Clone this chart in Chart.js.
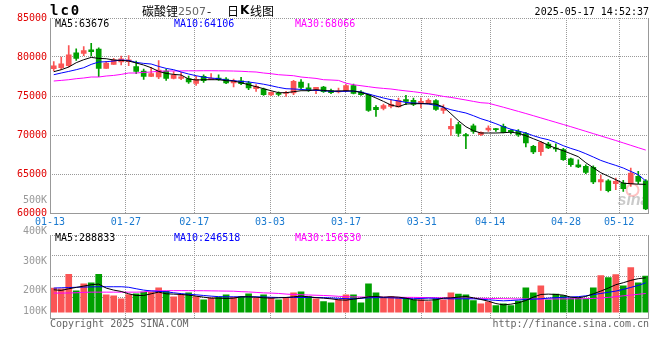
<!DOCTYPE html>
<html>
<head>
<meta charset="utf-8">
<script src="https://cdn.jsdelivr.net/npm/chart.js@4.4.1/dist/chart.umd.min.js"></script>
<style>
  html, body { margin: 0; padding: 0; background: #fff; }
  #wrap { position: relative; width: 660px; height: 360px; }
  #wrap canvas { position: absolute; left: 0; top: 0; }
</style>
</head>
<body>
<div id="wrap">
  <canvas id="chartPrice" width="660" height="340"></canvas>
  <canvas id="chartVolume" width="660" height="340"></canvas>
</div>
<script>
// daily candles 01-13 .. 05-16, index 0 = 01-13
const dateLabels = ['01-13', '01-27', '02-17', '03-03', '03-17', '03-31', '04-14', '04-28', '05-12'];
const dateIdx = [0, 10, 19, 29, 39, 49, 58, 68, 75];

const open = [
  78500, 78630, 78880, 80550, 80460, 80930, 81030, 78540, 79050, 79360,
  79400, 78760, 78200, 77510, 77440, 78200, 77260, 77260, 77220, 76620,
  77510, 77130, 77310, 77180, 76670, 76960, 76670, 75940, 75900, 75130,
  75290, 75330, 75380, 76790, 76060, 75720, 76150, 75680, 75510, 75680,
  76320, 75510, 75170, 73540, 73410, 73670, 73590, 74530, 74440, 74010,
  74100, 74400, 73150, 70770, 71320, 70040, 71190, 70040, 70640, 70770,
  71100, 70590, 70460, 70170, 68540, 67860, 68850, 68330, 68120, 66960,
  66190, 65970, 65850, 63970, 64140, 63760, 63850, 63760, 64690, 64140
];
const close = [
  78880, 79140, 80290, 79820, 80810, 80680, 78540, 79230, 79650, 79780,
  79650, 78150, 77510, 77860, 78330, 77260, 77690, 77470, 76790, 77130,
  76960, 77260, 77090, 76670, 76960, 76580, 76030, 76230, 75170, 75460,
  75200, 75420, 76870, 76100, 75770, 76100, 75550, 75420, 75640, 76320,
  75330, 75170, 73150, 73240, 73760, 73920, 74440, 74310, 73920, 74310,
  74440, 73280, 73410, 71100, 70200, 69870, 70460, 70330, 70900, 70680,
  70330, 70420, 70000, 68970, 67820, 69050, 68330, 68200, 66830, 66190,
  65900, 65200, 63970, 64270, 62860, 64050, 63120, 65130, 64050, 60510
];
const high = [
  79400, 80000, 81450, 81060, 81320, 81740, 81190, 79440, 79820, 80130,
  80170, 79490, 78460, 78670, 79530, 78410, 78120, 78030, 77560, 77510,
  77730, 77860, 77730, 77350, 77180, 77380, 76870, 76450, 76020, 75550,
  75550, 75590, 77000, 77090, 76580, 76100, 76230, 75900, 76020, 76450,
  76540, 75680, 75260, 73760, 73970, 74530, 74740, 75080, 74740, 74740,
  74650, 74530, 73880, 72090, 71610, 70200, 71410, 70420, 71190, 70850,
  71410, 70680, 70680, 70330, 68670, 69180, 69050, 68880, 68280, 67050,
  66830, 66190, 66060, 64870, 64270, 64490, 64180, 65770, 65330, 64270
];
const low = [
  78200, 78410, 78720, 79560, 80170, 80130, 77470, 78540, 79050, 78970,
  78880, 77860, 77130, 77470, 77220, 77000, 77180, 77090, 76610, 76360,
  76740, 77090, 77000, 76580, 76150, 76450, 75810, 75590, 75080, 75040,
  75040, 74950, 75170, 75940, 75590, 75290, 75460, 75290, 75380, 75590,
  75260, 75080, 73020, 72380, 73200, 73460, 73590, 73880, 73760, 73460,
  73970, 73150, 72770, 69950, 69820, 68240, 70200, 69910, 70460, 70460,
  70260, 70130, 69820, 68460, 67600, 67380, 68240, 67900, 66740, 65970,
  65810, 65040, 63760, 62900, 62690, 62990, 62770, 63410, 63760, 60420
];
const ma5 = [
  78115, 78371, 78717, 79268, 79653, 79948, 79820, 79781, 79614, 79563,
  79486, 79230, 78974, 78627, 78153, 77897, 77769, 77692, 77179, 77051,
  77089, 77089, 77089, 76961, 76922, 76704, 76448, 76192, 75935, 75679,
  75423, 75423, 75551, 75679, 75679, 75807, 75717, 75640, 75640, 75679,
  75640, 75461, 75166, 74743, 74307, 73846, 73628, 73974, 74012, 74012,
  74012, 73974, 73589, 72730, 71833, 71064, 70551, 70256, 70256, 70256,
  70294, 70358, 70230, 69910, 69525, 69141, 68692, 68307, 67987, 67602,
  67218, 66448, 65807, 65166, 64718, 64269, 63820, 63756, 63692, 63676
];
const ma10 = [
  77730, 77948, 78153, 78371, 78627, 79050, 79358, 79397, 79486, 79614,
  79563, 79307, 79179, 79102, 78794, 78538, 78371, 78076, 77820, 77602,
  77409, 77307, 77217, 77051, 76961, 76871, 76794, 76666, 76512, 76320,
  76102, 75935, 75897, 75845, 75769, 75717, 75679, 75590, 75590, 75590,
  75630, 75512, 75256, 74999, 74743, 74525, 74358, 74179, 74102, 74051,
  73974, 73794, 73538, 73243, 73025, 72820, 72474, 72089, 71794, 71448,
  71064, 70743, 70512, 70256, 69910, 69615, 69397, 69051, 68628, 68282,
  67987, 67602, 67179, 66743, 66410, 66102, 65769, 65333, 64910, 64106
];
const ma30 = [
  76922, 77000, 77089, 77217, 77307, 77435, 77435, 77563, 77640, 77769,
  77948, 77948, 78025, 78076, 78180, 78200, 78210, 78220, 78230, 78230,
  78240, 78240, 78230, 78220, 78200, 78170, 78115, 78076, 77948, 77858,
  77730, 77666, 77602, 77435, 77345, 77256, 77089, 77051, 77000, 76640,
  76448, 76320, 76192, 76063, 75974, 75897, 75769, 75653, 75551, 75423,
  75294, 75128, 74948, 74820, 74653, 74487, 74307, 74140, 74076, 73820,
  73563, 73294, 73025, 72756, 72474, 72192, 71910, 71628, 71346, 71064,
  70769, 70474, 70179, 69884, 69589, 69294, 68987, 68679, 68371, 68066
];

// volume, in thousand lots
const vol = [
  202.3, 196.6, 318.3, 179.6, 239.1, 247.5, 318.3, 145.7, 137.2, 111.7,
  148.5, 154.2, 168.3, 168.3, 205.1, 174.0, 128.7, 145.7, 162.7, 131.5,
  103.3, 120.2, 125.9, 145.7, 125.9, 131.5, 154.2, 120.2, 145.7, 120.2,
  103.3, 120.2, 162.7, 171.2, 131.5, 111.7, 89.1, 77.8, 106.1, 145.7,
  145.7, 77.8, 239.1, 162.7, 120.2, 131.5, 117.4, 120.2, 103.3, 103.3,
  89.1, 111.7, 103.3, 162.7, 151.4, 145.7, 97.6, 69.3, 86.3, 55.2,
  69.3, 55.2, 91.9, 205.1, 162.7, 222.1, 103.3, 151.4, 140.0, 117.4,
  117.4, 111.7, 205.1, 306.9, 290.0, 315.4, 222.1, 374.8, 247.5, 304.1
];
const volMa5 = [
  188.1, 182.5, 196.6, 207.9, 219.2, 230.6, 236.2, 202.3, 185.3, 174.0,
  154.2, 140.0, 140.0, 154.2, 168.3, 154.2, 151.4, 148.5, 142.9, 134.4,
  125.9, 117.4, 117.4, 114.6, 117.4, 128.7, 128.7, 125.9, 120.2, 117.4,
  120.2, 123.1, 128.7, 134.4, 128.7, 121.6, 117.4, 111.7, 103.3, 100.4,
  108.9, 117.4, 128.7, 131.5, 125.9, 128.7, 125.9, 117.4, 103.3, 100.4,
  100.4, 103.3, 117.4, 120.2, 125.9, 131.5, 120.2, 106.1, 91.9, 72.1,
  60.8, 66.5, 77.8, 97.6, 125.9, 148.5, 151.4, 148.5, 142.9, 125.9,
  120.2, 131.5, 154.2, 176.8, 202.3, 230.6, 247.5, 267.3, 281.5, 288.833
];
const volMa10 = [
  202.3, 205.1, 206.5, 209.3, 210.8, 212.2, 213.6, 213.6, 213.6, 213.6,
  209.3, 196.6, 185.3, 178.2, 174.0, 171.2, 162.7, 155.6, 149.9, 145.7,
  140.0, 134.4, 130.1, 128.7, 128.7, 128.7, 128.7, 128.7, 127.3, 124.5,
  123.1, 123.1, 123.1, 123.1, 123.1, 123.1, 121.6, 118.8, 116.0, 113.2,
  111.7, 116.0, 120.2, 121.6, 121.6, 120.2, 117.4, 113.2, 113.2, 114.6,
  117.4, 116.0, 113.2, 111.7, 111.7, 111.7, 111.7, 108.9, 103.3, 99.0,
  94.8, 97.6, 101.8, 106.1, 108.9, 111.7, 117.4, 121.6, 124.5, 127.3,
  130.1, 137.2, 147.1, 157.0, 166.9, 176.8, 191.0, 207.9, 224.9, 246.518
];
const volMa30 = [
  160, 160, 161, 163, 166, 168, 168, 168, 168, 168,
  168, 168, 170, 179, 180, 180, 181, 181, 181, 180,
  180, 179, 178, 177, 176, 172, 170, 166, 162, 160,
  157, 152, 148, 146, 144, 142, 140, 137, 133, 130,
  128, 127, 127, 126, 126, 125, 125, 124, 124, 123,
  122, 121, 120, 119, 118, 118, 117, 116, 115, 114,
  113, 112, 111, 111, 111, 111, 111, 111, 111, 112,
  112, 113, 115, 118, 124, 130, 137, 143, 150, 156.53
];

const N = open.length;
const UP = '#fa5555';
const DOWN = '#00a000';
const candleColors = close.map((c, i) => c >= open[i] ? UP : DOWN);
const MONO = '"DejaVu Sans Mono", monospace';

Chart.defaults.font.family = MONO;
Chart.defaults.font.size = 10;
Chart.defaults.animation = false;

function points(arr) {
  return arr.map((v, i) => ({ x: i, y: v }));
}

function spans(a, b) {
  return a.map((v, i) => ({ x: i, y: [v, b[i]] }));
}

// sina lays its date grid over N-1 slots, so the lines drift slightly off the candles
function dateTickValue(i) {
  return i * N / (N - 1) - 0.5;
}

function maLine(data, color) {
  return { type: 'line', data: points(data), borderColor: color, borderWidth: 1, pointRadius: 0, order: 0 };
}

function xScale(showLabels, height) {
  return {
    type: 'linear',
    offset: false,
    min: -0.5,
    max: N - 0.5,
    afterBuildTicks: s => { s.ticks = dateIdx.map(i => ({ value: dateTickValue(i) })); },
    afterFit: s => { s.height = height; },
    ticks: {
      display: showLabels, autoSkip: false, maxRotation: 0, padding: 3,
      color: '#1a7ad0', callback: (v, k) => dateLabels[k]
    },
    grid: { color: '#999', drawTicks: false, offset: false },
    border: { display: false, dash: [1, 1] }
  };
}

function drawFrame(ctx, a) {
  const l = Math.floor(a.left) + 0.5;
  const r = Math.floor(a.right) - 0.5;
  const b = Math.floor(a.bottom) + 0.5;
  ctx.strokeStyle = '#999';
  ctx.lineWidth = 1;
  ctx.setLineDash([]);
  ctx.beginPath();
  ctx.moveTo(l, a.top);
  ctx.lineTo(l, b);
  ctx.lineTo(r, b);
  ctx.lineTo(r, a.top);
  ctx.stroke();
}

function drawMaLabels(ctx, y, vals) {
  ctx.font = '10px ' + MONO;
  ctx.textBaseline = 'middle';
  ctx.textAlign = 'left';
  ctx.fillStyle = '#000';
  ctx.fillText('MA5:' + vals[0], 55, y);
  ctx.fillStyle = '#0000ff';
  ctx.fillText('MA10:' + vals[1], 174, y);
  ctx.fillStyle = '#ff00ff';
  ctx.fillText('MA30:' + vals[2], 295, y);
}

const priceDecor = {
  id: 'priceDecor',
  beforeDatasetsDraw(chart) {
    const { ctx, chartArea: a } = chart;
    ctx.save();
    ctx.strokeStyle = 'rgba(255,120,120,0.45)';
    ctx.lineWidth = 2;
    ctx.beginPath();
    ctx.arc(a.right - 17, a.bottom - 23, 6, 0, Math.PI * 2);
    ctx.stroke();
    ctx.fillStyle = 'rgba(150,150,150,0.5)';
    ctx.font = 'italic bold 16px "Liberation Sans"';
    ctx.textBaseline = 'alphabetic';
    ctx.fillText('sina', a.right - 32, a.bottom - 8);
    ctx.restore();
  },
  afterDraw(chart) {
    const { ctx, chartArea: a } = chart;
    ctx.save();
    drawFrame(ctx, a);

    ctx.textBaseline = 'middle';
    ctx.fillStyle = '#000';
    ctx.font = 'bold 14px ' + MONO;
    ctx.letterSpacing = '2px';
    ctx.fillText('lc0', 50, 11);
    ctx.letterSpacing = '0px';

    ctx.font = '12px "Noto Sans CJK SC"';
    ctx.fillText('碳酸锂', 142, 11);
    ctx.fillStyle = '#666';
    ctx.font = '11px "DejaVu Sans"';
    ctx.fillText('2507', 178, 12);
    ctx.fillStyle = '#000';
    ctx.font = '12px "Noto Sans CJK SC"';
    ctx.fillText('-', 207, 11);
    ctx.fillText('日', 227, 11);
    ctx.font = 'bold 12px "DejaVu Sans"';
    ctx.fillText('K', 240, 11);
    ctx.font = '12px "Noto Sans CJK SC"';
    ctx.fillText('线图', 250, 11);

    ctx.font = '10px ' + MONO;
    ctx.textAlign = 'right';
    ctx.fillText('2025-05-17 14:52:37', 649, 12);

    drawMaLabels(ctx, 24, [ma5[N - 1], ma10[N - 1], ma30[N - 1]]);
    ctx.restore();
  }
};

const volumeDecor = {
  id: 'volumeDecor',
  afterDraw(chart) {
    const { ctx, chartArea: a } = chart;
    ctx.save();
    drawFrame(ctx, a);
    drawMaLabels(ctx, 238, [volMa5, volMa10, volMa30].map(s => Math.round(s[N - 1] * 1000)));

    // sina prints these volume labels at its own fixed spots
    ctx.fillStyle = '#999';
    ctx.textAlign = 'right';
    [['500K', 200], ['400K', 231], ['300K', 261], ['200K', 290], ['100K', 311]].forEach(([t, y]) => {
      ctx.fillText(t, 47, y);
    });

    ctx.fillStyle = '#666';
    ctx.textAlign = 'left';
    ctx.fillText('Copyright 2025 SINA.COM', 50, 324);
    ctx.textAlign = 'right';
    ctx.fillText('http://finance.sina.com.cn', 649, 324);
    ctx.restore();
  }
};

new Chart(document.getElementById('chartPrice'), {
  type: 'bar',
  data: {
    datasets: [
      maLine(ma5, '#000000'),
      maLine(ma10, '#0000ff'),
      maLine(ma30, '#ff00ff'),
      {
        data: spans(open, close), backgroundColor: candleColors,
        barThickness: 5, minBarLength: 1, grouped: false, order: 1
      },
      {
        data: spans(low, high), backgroundColor: candleColors,
        barThickness: 1, grouped: false, order: 2
      }
    ]
  },
  options: {
    responsive: false,
    events: [],
    layout: { padding: { top: 18, right: 10.5, bottom: 108, left: 0 } },
    plugins: { legend: { display: false }, tooltip: { enabled: false } },
    scales: {
      x: xScale(true, 19),
      y: {
        min: 60000,
        max: 85000,
        afterFit: s => { s.width = 50; },
        ticks: { stepSize: 5000, color: '#e00000', padding: 3, callback: v => String(v) },
        grid: { color: '#999', drawTicks: false },
        border: { display: false, dash: [1, 1] }
      }
    }
  },
  plugins: [priceDecor]
});

const volMin = -50;
const volMax = 650;

new Chart(document.getElementById('chartVolume'), {
  type: 'bar',
  data: {
    datasets: [
      maLine(volMa5, '#000000'),
      maLine(volMa10, '#0000ff'),
      maLine(volMa30, '#ff00ff'),
      {
        data: points(vol), backgroundColor: candleColors,
        barThickness: 6, grouped: false, order: 1
      }
    ]
  },
  options: {
    responsive: false,
    events: [],
    layout: { padding: { top: 235, right: 10.5, bottom: 0, left: 0 } },
    plugins: { legend: { display: false }, tooltip: { enabled: false } },
    scales: {
      x: xScale(false, 22),
      y: {
        min: volMin,
        max: volMax,
        afterBuildTicks: s => {
          s.ticks = [0, 1, 2, 3, 4].map(k => ({ value: volMin + k * (volMax - volMin) / 4 }));
        },
        afterFit: s => { s.width = 50; },
        ticks: { display: false },
        grid: { color: '#999', drawTicks: false },
        border: { display: false, dash: [1, 1] }
      }
    }
  },
  plugins: [volumeDecor]
});
</script>
</body>
</html>
